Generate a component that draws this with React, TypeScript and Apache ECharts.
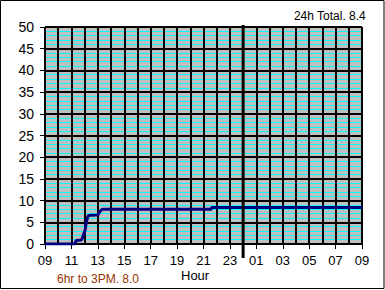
import React, { useEffect, useRef } from "react";
import * as echarts from "echarts";

// hours elapsed since 09:00, cumulative rainfall
const seriesPoints: [number, number][] = [
  [0, 0], [2.28, 0], [2.35, 0.8], [2.75, 0.9], [2.85, 1.5], [2.95, 2.5],
  [3.04, 3.2], [3.1, 4.5], [3.17, 5.5], [3.27, 6.5], [3.42, 6.6], [4.0, 6.7],
  [4.15, 7.5], [4.33, 8.0], [12.58, 8.0], [12.62, 8.4], [24, 8.4],
];
const startHour = 9;
const midnightOffset = 15;
const yTicks = [0, 5, 10, 15, 20, 25, 30, 35, 40, 45, 50];
const totalLabel = "24h Total. 8.4";
const partialLabel = "6hr to 3PM. 8.0";
const xAxisName = "Hour";

export default function App() {
  const ref = useRef<HTMLDivElement>(null);
  useEffect(() => {
    if (!ref.current) return;
    const chart = echarts.init(ref.current, undefined, { renderer: "svg" });
    const font = "Liberation Sans, Arial, sans-serif";
    chart.setOption({
      animation: false,
      backgroundColor: "#ffffff",
      grid: {
        left: 45, right: 23, top: 27, bottom: 46,
        show: true, backgroundColor: "#C0C0C0", borderColor: "#808080", borderWidth: 1,
      },
      xAxis: {
        type: "value", min: 0, max: 24, interval: 2, z: 3,
        axisLine: { show: true, lineStyle: { color: "#000", width: 1 } },
        axisTick: { show: true, length: 5, lineStyle: { color: "#000" } },
        axisLabel: {
          margin: 10, color: "#000", fontSize: 13, fontFamily: font,
          formatter: (v: number) => String((startHour + v) % 24).padStart(2, "0"),
        },
        splitLine: { show: true, lineStyle: { color: "#000", width: 2 } },
        minorTick: { show: false, splitNumber: 2 },
        minorSplitLine: { show: true, lineStyle: { color: "#000", width: 2 } },
      },
      yAxis: {
        type: "value", min: yTicks[0], max: yTicks[yTicks.length - 1], interval: 5, z: 2,
        axisLine: { show: true, lineStyle: { color: "#000", width: 1 } },
        axisTick: { show: true, length: 5, lineStyle: { color: "#000" } },
        axisLabel: { margin: 11, color: "#000", fontSize: 14, fontFamily: font },
        splitLine: { show: true, lineStyle: { color: "#000", width: 2 } },
        minorTick: { show: false, splitNumber: 5 },
        minorSplitLine: { show: true, lineStyle: { color: "#00FFFF", width: 1 } },
      },
      series: [
        {
          type: "line", data: seriesPoints, showSymbol: false, z: 5,
          lineStyle: { color: "#000080", width: 3 },
        },
      ],
    });
    const x = chart.convertToPixel({ xAxisIndex: 0 }, midnightOffset) as number;
    chart.setOption({
      graphic: [
        { type: "rect", shape: { x: 0.5, y: 0.5, width: 383.5, height: 288 }, style: { fill: "none", stroke: "#000", lineWidth: 1 } },
        { type: "line", z: 10, shape: { x1: x, y1: 25, x2: x, y2: 258 }, style: { stroke: "#000", lineWidth: 3 } },
        { type: "text", right: 19, top: 10, style: { text: totalLabel, fill: "#000", fontSize: 12, fontFamily: font } },
        { type: "text", left: 57, top: 273, style: { text: partialLabel, fill: "#993300", fontSize: 12, fontFamily: font } },
        { type: "text", left: 181, top: 269, style: { text: xAxisName, fill: "#000", fontSize: 13, fontFamily: font } },
      ],
    });
    return () => chart.dispose();
  }, []);
  return <div ref={ref} style={{ position: "fixed", left: 0, top: 0, width: 385, height: 290 }} />;
}
